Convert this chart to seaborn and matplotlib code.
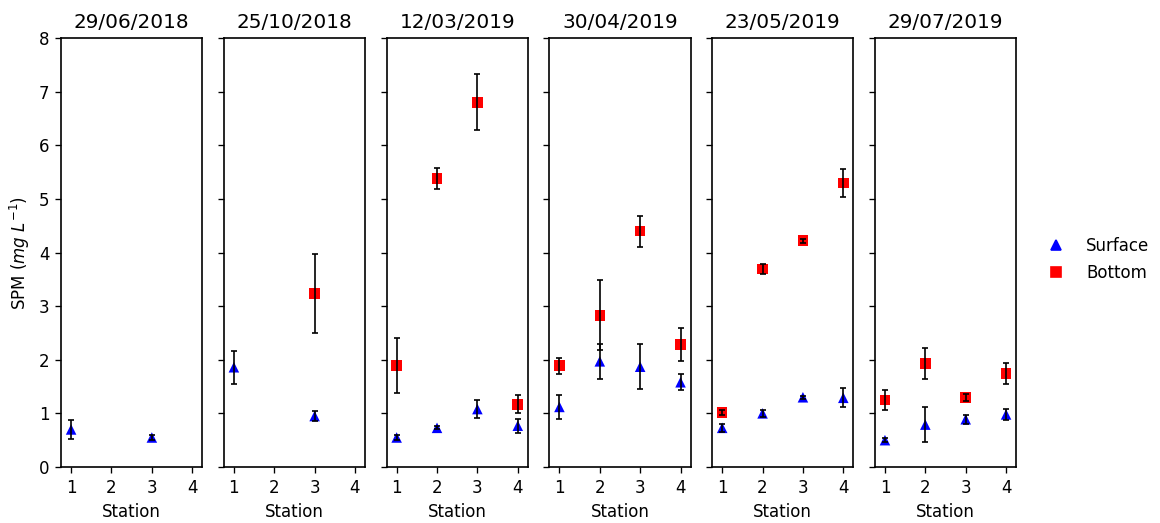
import numpy as np
import pandas as pd
import matplotlib
matplotlib.use("Agg")
import matplotlib.pyplot as plt
import seaborn as sns

# Sampling campaigns and stations
dates = ["29/06/2018", "25/10/2018", "12/03/2019", "30/04/2019", "23/05/2019", "29/07/2019"]
stations = [1, 2, 3, 4]

# Surface SPM (mg/L): mean and standard deviation per station (NaN = not sampled)
surface_mean = [
    [0.70, np.nan, 0.55, np.nan],
    [1.86, np.nan, 0.95, np.nan],
    [0.55, 0.73, 1.08, 0.77],
    [1.12, 1.97, 1.87, 1.58],
    [0.73, 1.00, 1.30, 1.29],
    [0.50, 0.79, 0.89, 0.98],
]
surface_sd = [
    [0.18, np.nan, 0.05, np.nan],
    [0.31, np.nan, 0.10, np.nan],
    [0.05, 0.03, 0.16, 0.13],
    [0.22, 0.33, 0.42, 0.15],
    [0.07, 0.07, 0.03, 0.18],
    [0.04, 0.33, 0.08, 0.11],
]

# Bottom SPM (mg/L): mean and standard deviation per station
bottom_mean = [
    [np.nan, np.nan, np.nan, np.nan],
    [np.nan, np.nan, 3.24, np.nan],
    [1.89, 5.38, 6.80, 1.17],
    [1.89, 2.83, 4.40, 2.28],
    [1.02, 3.69, 4.22, 5.30],
    [1.25, 1.93, 1.30, 1.74],
]
bottom_sd = [
    [np.nan, np.nan, np.nan, np.nan],
    [np.nan, np.nan, 0.74, np.nan],
    [0.51, 0.20, 0.52, 0.17],
    [0.15, 0.65, 0.29, 0.31],
    [0.05, 0.10, 0.04, 0.26],
    [0.19, 0.28, 0.07, 0.20],
]

rows = []
for d, date in enumerate(dates):
    for s, st in enumerate(stations):
        rows.append(dict(date=date, station=st, depth="Surface",
                         spm=surface_mean[d][s], sd=surface_sd[d][s]))
        rows.append(dict(date=date, station=st, depth="Bottom",
                         spm=bottom_mean[d][s], sd=bottom_sd[d][s]))
df = pd.DataFrame(rows)

sns.set_style("white")
plt.rcParams.update({
    "axes.edgecolor": "black",
    "axes.linewidth": 1.0,
    "xtick.color": "black",
    "ytick.color": "black",
    "text.color": "black",
    "axes.labelcolor": "black",
    "xtick.bottom": True,
    "ytick.left": True,
    "xtick.direction": "out",
    "ytick.direction": "out",
    "xtick.major.size": 3.5,
    "ytick.major.size": 3.5,
    "font.size": 10,
    "axes.titlesize": 12,
    "axes.labelsize": 10,
    "xtick.labelsize": 10,
    "ytick.labelsize": 10,
    "legend.fontsize": 10,
})
plt.rcParams["font.family"] = ["DejaVu Sans"]

dpi = 120
fig, axes = plt.subplots(1, 6, figsize=(1160 / dpi, 523 / dpi), dpi=dpi, sharey=True)
fig.subplots_adjust(left=0.0526, right=0.876, top=0.9273, bottom=0.1071, wspace=0.152)

palette = {"Surface": "blue", "Bottom": "red"}
markers = {"Surface": "^", "Bottom": "s"}

for ax, date in zip(axes, dates):
    sub = df[df["date"] == date].dropna(subset=["spm"])
    sns.scatterplot(data=sub, x="station", y="spm", hue="depth", style="depth",
                    hue_order=["Surface", "Bottom"], style_order=["Surface", "Bottom"],
                    palette=palette, markers=markers, s=40, linewidth=0,
                    ax=ax, legend=False, zorder=2)
    ax.errorbar(sub["station"], sub["spm"], yerr=sub["sd"], fmt="none",
                ecolor="black", elinewidth=1, capsize=2, capthick=1, zorder=3)
    ax.set_title(date)
    ax.set_xlim(0.75, 4.25)
    ax.set_ylim(0, 8)
    ax.set_xticks(stations)
    ax.set_xlabel("Station")
    ax.set_ylabel("")

axes[0].set_ylabel(r"SPM ($mg\ L^{-1}$)")
axes[0].set_yticks(range(0, 9))

handles = [
    plt.Line2D([], [], linestyle="none", marker="^", color="blue", markersize=6.3),
    plt.Line2D([], [], linestyle="none", marker="s", color="red", markersize=6.3),
]
fig.legend(handles, ["Surface", "Bottom"], loc="center left",
           bbox_to_anchor=(0.883, 0.504), frameon=False)

fig.savefig("out.png", dpi=dpi)
